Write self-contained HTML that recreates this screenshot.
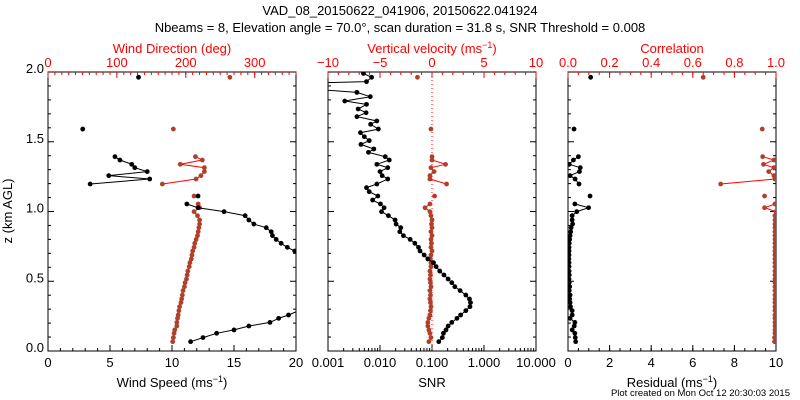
<!DOCTYPE html>
<html><head><meta charset="utf-8"><style>
body{margin:0;background:#fff;}
svg{display:block;font-family:"Liberation Sans",sans-serif;}
</style></head><body>
<svg id="chart" width="800" height="400" viewBox="0 0 800 400">
<rect width="800" height="400" fill="#fff"/>
<text x="400" y="15" text-anchor="middle" font-size="13">VAD_08_20150622_041906, 20150622.041924</text>
<text x="400" y="32" text-anchor="middle" font-size="13">Nbeams = 8, Elevation angle = 70.0°, scan duration = 31.8 s, SNR Threshold = 0.008</text>
<text x="172" y="53" text-anchor="middle" font-size="13" fill="#f00">Wind Direction (deg)</text>
<text x="432" y="53" text-anchor="middle" font-size="13" fill="#f00">Vertical velocity (ms<tspan dy="-5" font-size="9">−1</tspan><tspan dy="5">)</tspan></text>
<text x="672" y="53" text-anchor="middle" font-size="13" fill="#f00">Correlation</text>
<text x="172" y="387" text-anchor="middle" font-size="13">Wind Speed (ms<tspan dy="-5" font-size="9">−1</tspan><tspan dy="5">)</tspan></text>
<text x="432" y="387" text-anchor="middle" font-size="13">SNR</text>
<text x="672" y="387" text-anchor="middle" font-size="13">Residual (ms<tspan dy="-5" font-size="9">−1</tspan><tspan dy="5">)</tspan></text>
<text x="12" y="211" text-anchor="middle" font-size="13" transform="rotate(-90 12 211)">z (km AGL)</text>
<text x="790" y="396" text-anchor="end" font-size="9.5">Plot created on Mon Oct 12 20:30:03 2015</text>
<defs>
<clipPath id="c1"><rect x="48" y="72" width="248" height="279"/></clipPath>
<clipPath id="c2"><rect x="328" y="72" width="208" height="279"/></clipPath>
<clipPath id="c3"><rect x="568" y="72" width="208" height="279"/></clipPath>
</defs>
</svg>
<script>
const heights=[1.990,1.962,1.931,1.918,1.883,1.854,1.823,1.792,1.768,1.735,1.708,1.680,1.649,1.625,1.591,1.565,1.536,1.508,1.481,1.448,1.424,1.393,1.369,1.338,1.314,1.286,1.257,1.233,1.197,1.171,1.142,1.111,1.082,1.054,1.027,0.999,0.970,0.939,0.910,0.884,0.855,0.827,0.800,0.772,0.743,0.717,0.688,0.660,0.633,0.605,0.573,0.545,0.516,0.490,0.461,0.433,0.401,0.373,0.347,0.318,0.289,0.258,0.234,0.205,0.179,0.151,0.127,0.096,0.067];
const N=null;
const speed=[N,7.3,N,N,N,N,N,N,N,N,N,N,N,N,2.8,N,N,N,N,N,N,5.4,5.8,6.75,7.0,8.0,4.9,8.2,3.4,N,N,12.1,N,11.2,12.1,14.2,15.9,16.2,16.6,17.6,18.0,18.1,18.4,18.8,19.3,19.9,20.6,21,22,23,24,25,25,25,24,23,22,21.5,21,20.6,20.2,19.4,18.6,17.9,16.2,15.0,13.6,12.5,11.5];
const direction=[N,264,N,N,N,N,N,N,N,N,N,N,N,N,182,N,N,N,N,N,N,214,224,192,227,227,222,215,166,N,N,212,N,218,220,212,217,220,220,219,218,217,215,213,212,210,209,208,206,205,203,202,201,199,198,196,195,194,193,191,190,189,188,187,187,184,183,182,181];
const snr=[0.0048,0.0069,0.0055,0.0003,0.0003,0.0036,0.0065,0.0021,0.0055,0.0038,0.0054,0.0036,0.0087,0.0066,0.0093,0.0042,0.0050,0.0062,0.0043,0.0076,0.0060,0.0126,0.0151,0.0087,0.0141,0.0100,0.0110,0.0141,0.0087,0.0055,0.0062,0.0091,0.0072,0.0102,0.0120,0.0107,0.0145,0.0195,0.0204,0.0251,0.0240,0.0282,0.0380,0.0468,0.0550,0.0589,0.0708,0.0832,0.107,0.120,0.141,0.170,0.204,0.240,0.275,0.347,0.447,0.525,0.550,0.537,0.447,0.355,0.302,0.240,0.204,0.186,0.166,0.158,0.135];
const wvel=[N,-1.4,N,N,N,N,N,N,N,N,N,N,N,N,-0.1,N,N,N,N,N,N,0,0,1.3,-0.1,0.2,-0.2,-0.2,1.4,N,N,0.25,N,-0.2,-0.67,-0.2,-0.1,0,-0.05,0,-0.1,0,-0.1,-0.05,-0.1,0,-0.1,-0.15,-0.1,-0.1,-0.2,-0.15,-0.2,-0.15,-0.1,-0.2,-0.15,-0.2,-0.15,-0.1,-0.15,-0.2,-0.3,-0.4,-0.4,-0.3,-0.2,-0.1,-0.3];
const residual=[N,1.09,N,N,N,N,N,N,N,N,N,N,N,N,0.29,N,N,N,N,N,N,0.50,0.26,0.06,0.59,0.55,0.1,0.34,0.53,N,N,1.06,N,0.33,0.99,0.42,0.2,0.2,0.22,0.15,0.13,0.1,0.08,0.06,0.05,0.05,0.05,0.04,0.05,0.05,0.05,0.06,0.05,0.06,0.08,0.06,0.1,0.08,0.1,0.12,0.2,0.2,0.1,0.33,0.3,0.2,0.33,0.35,0.37];
const corr=[N,0.65,N,N,N,N,N,N,N,N,N,N,N,N,0.934,N,N,N,N,N,N,0.936,0.99,0.94,0.99,0.965,0.99,0.995,0.734,N,N,0.945,N,0.995,0.945,1.0,0.995,0.995,0.995,0.995,0.995,0.995,0.995,0.995,0.995,0.995,0.995,0.995,0.995,0.995,0.995,0.995,0.995,0.995,0.995,0.995,0.995,0.995,0.995,0.995,0.995,0.995,0.995,0.995,0.995,0.995,0.995,0.993,0.993];
const zTicks=[0,0.5,1.0,1.5,2.0];
const zTickLabels=["0.0","0.5","1.0","1.5","2.0"];

const svg=document.getElementById('chart');
const NS='http://www.w3.org/2000/svg';
const Y0=351,Y1=72;
const yS=z=>Y0-z*(Y0-Y1)/2;
function mk(tag,attrs,parent){const e=document.createElementNS(NS,tag);for(const k in attrs)e.setAttribute(k,attrs[k]);(parent||svg).appendChild(e);return e;}
const lin=(a,b,x0,x1)=>v=>x0+(v-a)/(b-a)*(x1-x0);
const logS=(a,b,x0,x1)=>v=>x0+(Math.log10(v)-Math.log10(a))/(Math.log10(b)-Math.log10(a))*(x1-x0);
const BROWN='#b0402a';

function axisH(xs,y,dir,vals,minors,labels,color,name,labelY){
  const g=mk('g',{});
  
  
  vals.forEach((v,i)=>{const x=xs(v);mk('line',{x1:x,x2:x,y1:y,y2:y+dir*6,stroke:color,'stroke-width':1},g);
    const t=mk('text',{x:x,y:labelY,'text-anchor':'middle','font-size':13,fill:color},g);t.textContent=labels[i];});
  minors.forEach(v=>{const x=xs(v);mk('line',{x1:x,x2:x,y1:y,y2:y+dir*3,stroke:color,'stroke-width':1},g);});
}
function frame(x0,x1,name,leftLabels){
  const r=mk('rect',{x:x0,y:Y1,width:x1-x0,height:Y0-Y1,fill:'none',stroke:'#000','stroke-width':1});
  
  
  for(let k=0;k<=20;k++){const z=k/10,y=yS(z),len=(k%5===0)?6:3;
    mk('line',{x1:x0,x2:x0+len,y1:y,y2:y,stroke:'#000'});mk('line',{x1:x1,x2:x1-len,y1:y,y2:y,stroke:'#000'});}
  if(leftLabels){zTicks.forEach((z,i)=>{const t=mk('text',{x:x0-4,y:yS(z)+1,'text-anchor':'end','font-size':13});
    
    
    t.textContent=zTickLabels[i];});}
}
function series(vals,xs,lineColor,markColor,clip,name,lineDash){
  const g=mk('g',{'clip-path':'url(#'+clip+')'});
  
  
  let d='',pen=false;
  vals.forEach((v,i)=>{if(v===null){pen=false;return;}const x=xs(v),y=yS(heights[i]);d+=(pen?'L':'M')+x.toFixed(1)+' '+y.toFixed(1);pen=true;});
  mk('path',{d:d,fill:'none',stroke:lineColor,'stroke-width':1},g);
  vals.forEach((v,i)=>{if(v===null)return;const c=mk('circle',{cx:xs(v),cy:yS(heights[i]),r:2.4,fill:markColor},g);
    
    });
}
const range=(a,b,s)=>{const r=[];for(let v=a;v<=b+1e-9;v+=s)r.push(+v.toFixed(4));return r;};

// Panel 1
const xSpd=lin(0,20,48,296), xDir=lin(0,360,48,296);
frame(48,296,'wind-panel-frame',true);
axisH(xSpd,Y0,-1,[0,5,10,15,20],range(0,20,1),["0","5","10","15","20"],'#000','wind-speed-axis',367);
axisH(xDir,Y1,1,[0,100,200,300],range(0,360,10),["0","100","200","300"],'#f00','wind-direction-axis',67);
series(direction,xDir,'#f00',BROWN,'c1','wind-direction-series');
series(speed,xSpd,'#000','#000','c1','wind-speed-series');

// Panel 2
const xSnr=logS(0.001,10,328,536), xW=lin(-10,10,328,536);
frame(328,536,'snr-panel-frame',false);
const snrMinor=[];[0.001,0.01,0.1,1].forEach(d=>{for(let k=2;k<=9;k++)snrMinor.push(d*k);});
axisH(xSnr,Y0,-1,[0.001,0.01,0.1,1,10],snrMinor,["0.001","0.010","0.100","1.000","10.000"],'#000','snr-axis',367);
axisH(xW,Y1,1,[-10,-5,0,5,10],range(-10,10,1),["−10","−5","0","5","10"],'#f00','vertical-velocity-axis',67);
const zl=mk('line',{x1:xW(0),x2:xW(0),y1:Y1,y2:Y0,stroke:'#f00','stroke-dasharray':'1 3'});


series(wvel,xW,'#f00',BROWN,'c2','vertical-velocity-series');
series(snr,xSnr,'#000','#000','c2','snr-series');

// Panel 3
const xRes=lin(0,10,568,776), xCor=lin(0,1,568,776);
frame(568,776,'residual-panel-frame',false);
axisH(xRes,Y0,-1,[0,2,4,6,8,10],range(0,10,0.5),["0","2","4","6","8","10"],'#000','residual-axis',367);
axisH(xCor,Y1,1,[0,0.2,0.4,0.6,0.8,1.0],range(0,1,0.05),["0.0","0.2","0.4","0.6","0.8","1.0"],'#f00','correlation-axis',67);
series(corr,xCor,'#f00',BROWN,'c3','correlation-series');
series(residual,xRes,'#000','#000','c3','residual-series');
</script>
</body></html>
